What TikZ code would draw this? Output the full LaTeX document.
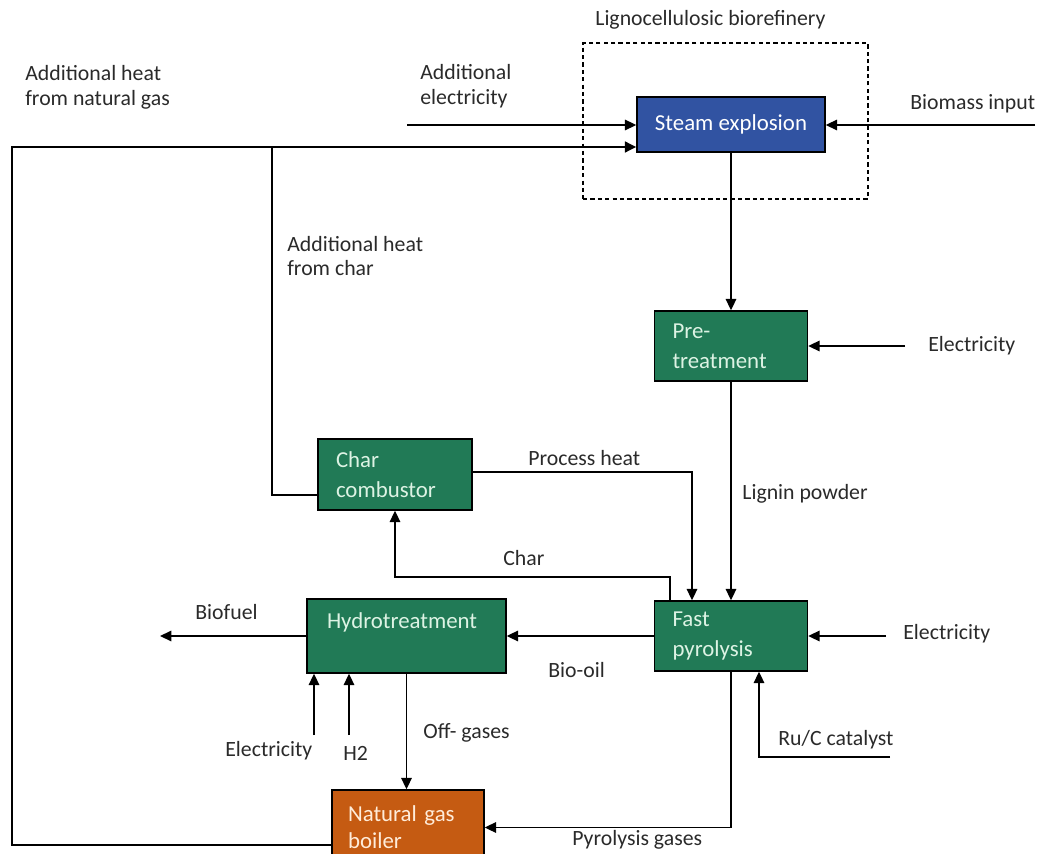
\documentclass[tikz,border=0pt]{standalone}
\usepackage{fontspec}
\setmainfont{Carlito}
\usetikzlibrary{arrows.meta}

\definecolor{procgreen}{HTML}{217A56}
\definecolor{steamblue}{HTML}{3153A2}
\definecolor{boilerorange}{HTML}{C55B12}
\definecolor{greentext}{HTML}{DDF3E4}
\definecolor{labelgray}{HTML}{2A2A2A}

\tikzset{
	flow/.style={line width=0.85pt, -{Triangle[length=6.5pt,width=6pt]}},
	pipe/.style={line width=0.85pt},
	procbox/.style={draw=black, line width=0.8pt, fill=procgreen, text=greentext,
		align=left, inner xsep=0.36cm, inner ysep=0pt,
		font=\fontsize{13}{17}\selectfont},
	lbl/.style={text=labelgray, align=left, anchor=west, inner sep=0pt,
		font=\fontsize{12.4}{14.2}\selectfont},
}

\begin{document}
\begin{tikzpicture}[x=0.02cm, y=-0.02cm]

		\useasboundingbox (0,0) rectangle (1041,854);
		\clip (0,0) rectangle (1041,854);

		% process units

		\node[procbox, fill=steamblue, align=center, text=white, minimum width=3.72cm, minimum height=1.10cm] (steam) at (731,124.5) {Steam explosion};

		\node[procbox, text width=2.34cm, minimum width=3.06cm, minimum height=1.40cm] (pre) at (731,346) {Pre-\\treatment};

		\node[procbox, text width=2.36cm, minimum width=3.08cm, minimum height=1.42cm] (char) at (395,474.5) {Char\\combustor};

		\node[procbox, text width=2.34cm, minimum width=3.06cm, minimum height=1.40cm] (fast) at (731,636) {Fast\\pyrolysis};

		\node[procbox, inner xsep=0.4cm, text width=3.18cm, minimum width=3.98cm, minimum height=1.48cm] (hydro) at (406.5,636) {Hydrotreatment\\ \mbox{}};

		\node[procbox, fill=boilerorange, text=orange!15, inner xsep=0.32cm, text width=2.40cm, minimum width=3.04cm, minimum height=1.50cm, font=\fontsize{13}{15.5}\selectfont] (boiler) at (408,827.5) {Natural gas\\boiler};

		% biorefinery boundary

		\node[draw, dashed, dash pattern=on 2.4pt off 1.8pt, line width=0.8pt, minimum width=5.70cm, minimum height=3.12cm] (biorefinery) at (725.5,121) {};

		% define point

		\coordinate (ae)  at (407,125);
		\coordinate (bm)  at (1035,125);
		\coordinate (hc)  at (272,147);
		\coordinate (chb) at (272,495);
		\coordinate (ngt) at (12,147);
		\coordinate (ngb) at (12,845);
		\coordinate (e1)  at (905,346);
		\coordinate (phx) at (692,472);
		\coordinate (cht) at (670,577);
		\coordinate (e2)  at (886,636);
		\coordinate (bf)  at (160,636);
		\coordinate (e3)  at (314,735);
		\coordinate (h2)  at (349,735);
		\coordinate (ru)  at (890,757);
		\coordinate (ruc) at (759,757);

		% streams

		\draw[flow] (ae) -- (ae -| steam.west);
		\draw[flow] (bm) -- (bm -| steam.east);
		\draw[pipe] (boiler.west |- ngb) -- (ngb) -- (ngt) -- (hc);
		\draw[pipe] (char.west |- chb) -- (chb) -- (hc);
		\draw[flow, line width=1.7pt] (hc) -- (hc -| steam.west);

		\draw[flow] (steam) -- (pre);
		\draw[flow] (e1) -- (pre.east);
		\draw[flow] (pre) -- (fast);

		\draw[flow] (char.east |- phx) -- (phx) -- (phx |- fast.north);
		\draw[flow] (cht |- fast.north) -- (cht) -| (char.south);

		\draw[flow] (e2) -- (fast.east);
		\draw[flow] (fast.west) -- (hydro.east);
		\draw[flow] (hydro.west) -- (bf);
		\draw[flow] (e3) -- (e3 |- hydro.south);
		\draw[flow] (h2) -- (h2 |- hydro.south);
		\draw[flow] (hydro.south) -- (hydro.south |- boiler.north);

		\draw[flow] (fast.south) |- (boiler.east);
		\draw[flow] (ru) -- (ruc) -- (ruc |- fast.south);

		% labels

		\node[lbl] (lref) at (595,20) {Lignocellulosic biorefinery};
		\node[lbl] (lng)  at (25,87) {Additional heat\\from natural gas};
		\node[lbl] (lae)  at (420,86) {Additional\\electricity};
		\node[lbl] (lbm)  at (910,104) {Biomass input};
		\node[lbl] (lhc)  at (287,256) {Additional heat\\from char};
		\node[lbl] (le1)  at (928,346) {Electricity};
		\node[lbl] (llp)  at (742,494) {Lignin powder};
		\node[lbl] (lph)  at (528,458) {Process heat};
		\node[lbl] (lch)  at (503,558) {Char};
		\node[lbl] (le2)  at (903,634) {Electricity};
		\node[lbl] (lbo)  at (548,670) {Bio-oil};
		\node[lbl] (lbf)  at (195,612) {Biofuel};
		\node[lbl] (le3)  at (225,751) {Electricity};
		\node[lbl] (lh2)  at (343,753) {H2};
		\node[lbl] (log)  at (423,733) {Off- gases};
		\node[lbl] (lru)  at (778,740) {Ru/C catalyst};
		\node[lbl] (lpg)  at (572,840) {Pyrolysis gases};

	\end{tikzpicture}
\end{document}
